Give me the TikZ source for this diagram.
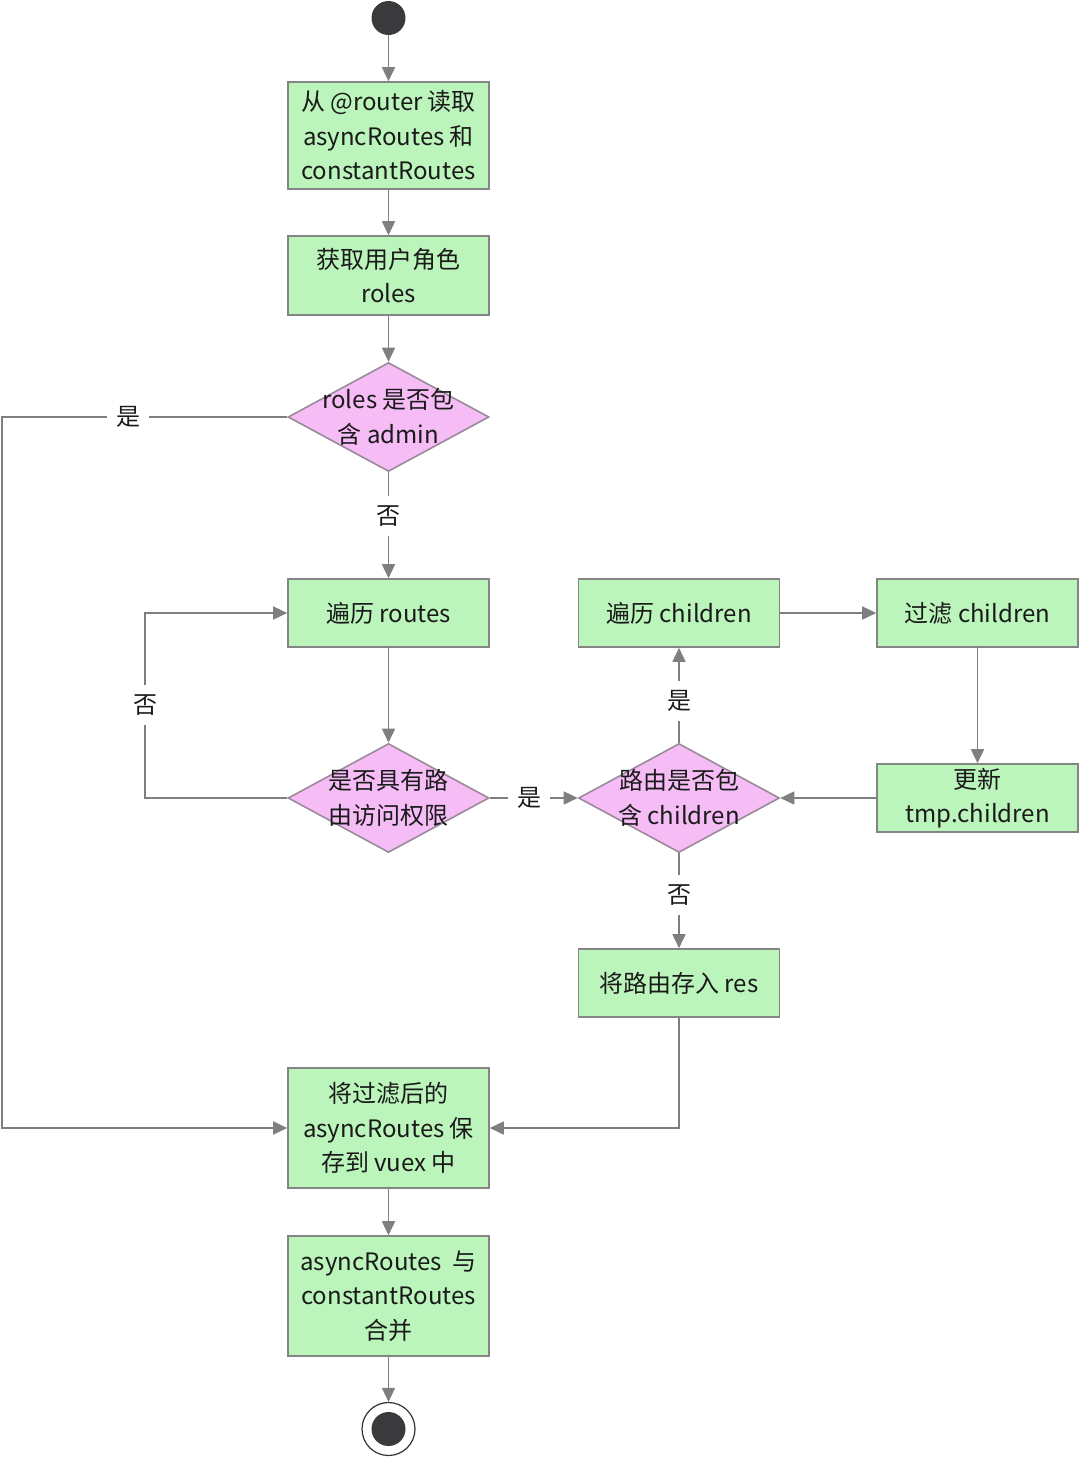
\documentclass[tikz,border=0pt]{standalone}
\usepackage{fontspec}
\setmainfont{Noto Sans CJK SC}
\usetikzlibrary{shapes.geometric,arrows.meta}
\definecolor{boxfill}{HTML}{BBF5BB}
\definecolor{boxline}{HTML}{858585}
\definecolor{diafill}{HTML}{F5BCF5}
\definecolor{dialine}{HTML}{9A8A9A}
\definecolor{edgecol}{HTML}{7F7F7F}
\definecolor{dot}{HTML}{3A3A3D}
\definecolor{txt}{HTML}{1A1A1A}
\tikzset{
  every node/.style={text=txt, font=\fontsize{12pt}{17.25pt}\selectfont},
  box/.style={rectangle, draw=boxline, fill=boxfill, line width=0.8pt, minimum width=100.5pt, align=center, inner sep=0pt},
  dia/.style={diamond, draw=dialine, fill=diafill, line width=0.8pt, minimum width=100.5pt, minimum height=54.5pt, inner sep=0pt},
  dlab/.style={align=center, inner sep=0pt},
  lab/.style={inner sep=4.5pt},
  edge/.style={draw=edgecol, line width=0.8pt},
  arr/.style={edge, -{Triangle[length=7pt,width=6.5pt]}, fill=none},
  startdot/.style={circle, fill=dot, minimum size=17pt, inner sep=0pt},
  enddot/.style={circle, draw=black!80, fill=white, line width=0.6pt, minimum size=26.5pt, inner sep=0pt},
}
\begin{document}
\begin{tikzpicture}[x=0.5pt, y=-0.5pt]
\useasboundingbox (0,0) rectangle (1080,1457);
% nodes
\node[startdot] (start) at (388.5,18) {};
\node[box, minimum height=53.5pt] (b1) at (388.5,135.5) {从 @router 读取\\asyncRoutes 和\\constantRoutes};
\node[box, minimum height=39.5pt] (b2) at (388.5,275.5) {获取用户角色\\roles};
\node[dia] (d1) at (388.5,417) {};
\node[dlab] at (d1.center) {roles 是否包\\含 admin};
\node[lab] (l1) at (388.5,516) {否};
\node[box, minimum height=34pt] (b3) at (388.5,613) {遍历 routes};
\node[dia] (d2) at (388.5,798) {};
\node[dlab] at (d2.center) {是否具有路\\由访问权限};
\node[lab] (l4) at (529,798) {是};
\node[dia] (d3) at (679,798) {};
\node[dlab] at (d3.center) {路由是否包\\含 children};
\node[lab] (l3) at (145,705) {否};
\node[box, minimum height=34pt] (b4) at (679,613) {遍历 children};
\node[box, minimum height=34pt] (b5) at (977.5,613) {过滤 children};
\node[box, minimum height=34pt] (b6) at (977.5,798) {更新\\tmp.children};
\node[lab] (l5) at (679,701) {是};
\node[lab] (l6) at (679,895) {否};
\node[box, minimum height=34pt] (b7) at (679,983) {将路由存入 res};
\node[box, minimum height=60pt] (b8) at (388.5,1128) {将过滤后的\\asyncRoutes 保\\存到 vuex 中};
\node[box, minimum height=60pt] (b9) at (388.5,1296) {asyncRoutes\ \ 与\\constantRoutes\\合并};
\node[enddot] (end) at (388.5,1429) {};
\node[startdot] (endin) at (end.center) {};
\node[lab] (l2) at (128,417) {是};
\coordinate (cl) at (2,417);
% edges
\draw[arr] (start) -- (b1);
\draw[arr] (b1) -- (b2);
\draw[arr] (b2) -- (d1.north);
\draw[edge] (d1.south) -- (l1);
\draw[arr] (l1) -- (b3);
\draw[arr] (b3) -- (d2.north);
\draw[edge] (d2.east) -- (l4);
\draw[arr] (l4) -- (d3.west);
\draw[edge] (d2.west) -| (l3.south);
\draw[arr] (l3.north) |- (b3.west);
\draw[edge] (d3.north) -- (l5);
\draw[arr] (l5) -- (b4);
\draw[arr] (b4) -- (b5);
\draw[arr] (b5) -- (b6);
\draw[arr] (b6) -- (d3.east);
\draw[edge] (d3.south) -- (l6);
\draw[arr] (l6) -- (b7);
\draw[arr] (b7.south) |- (b8.east);
\draw[edge] (d1.west) -- (l2.east);
\draw[arr] (l2.west) -- (cl) |- (b8.west);
\draw[arr] (b8) -- (b9);
\draw[arr] (b9) -- (end);
\end{tikzpicture}
\end{document}
